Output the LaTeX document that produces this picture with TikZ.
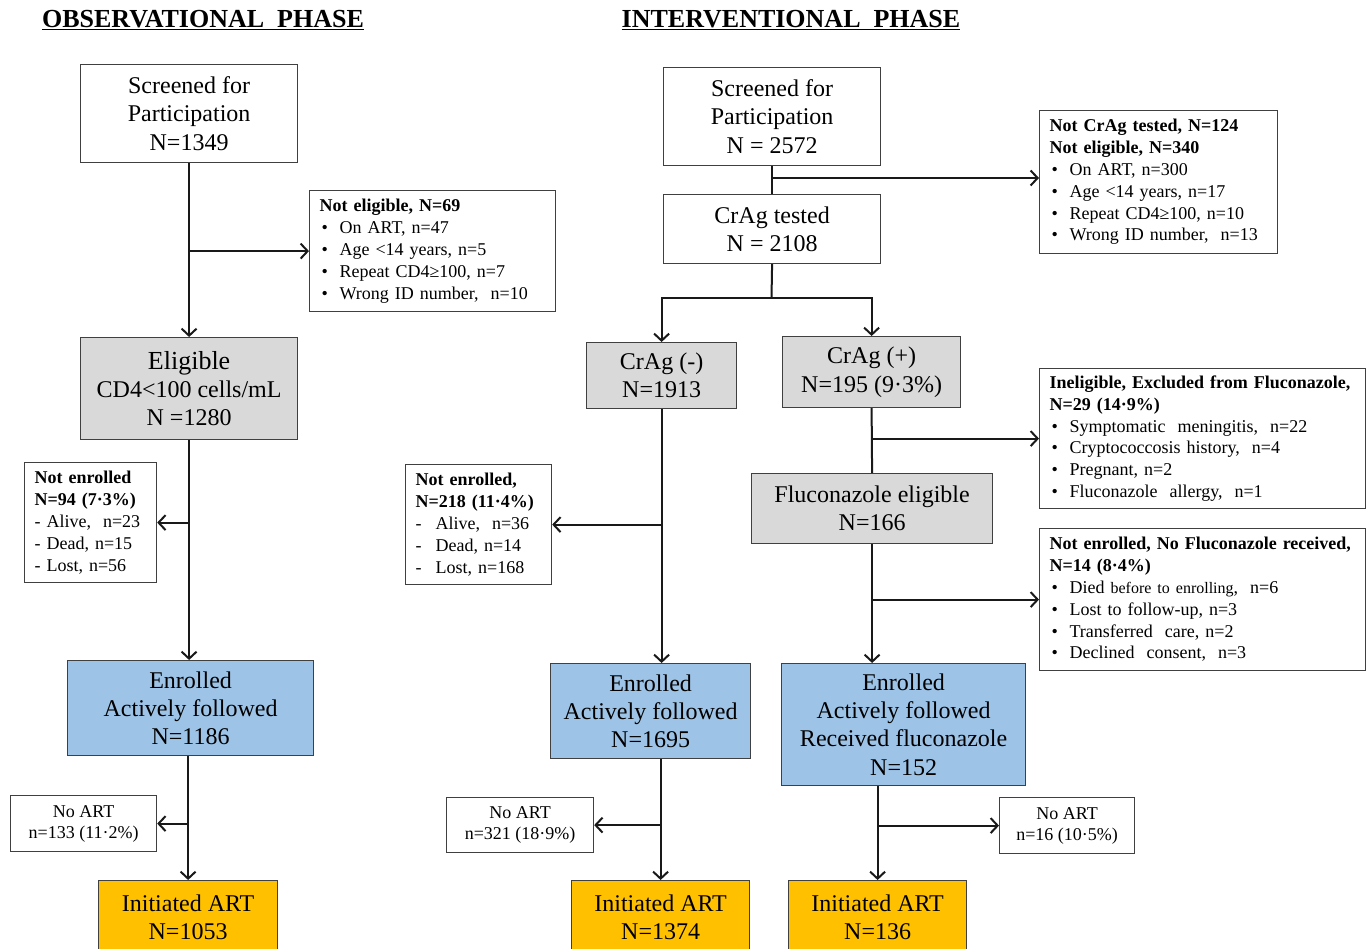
\documentclass[tikz,border=0pt]{standalone}
\usepackage{fontspec}
\setmainfont{Liberation Serif}
\usetikzlibrary{arrows.meta}
\newcommand\myfs[2]{\fontsize{#1pt}{#2pt}\selectfont}
\newcommand\bit{\hspace*{2pt}\makebox[18pt][l]{\textbullet}}
\newcommand\dit{\makebox[20pt][l]{-}}
\definecolor{cgrey}{HTML}{D9D9D9}
\definecolor{cblue}{HTML}{9DC3E6}
\definecolor{corange}{HTML}{FFC000}
\begin{document}
\begin{tikzpicture}[x=1pt,y=-1pt,
 mainbox/.style={draw=black!75, line width=1.2pt, align=center, inner sep=0pt, font=\myfs{24}{28.3}, anchor=north west},
 sidebox/.style={draw=black!75, line width=1.2pt, align=left, inner xsep=10pt, inner ysep=0pt, font=\myfs{18}{21.8}, anchor=north west},
 smallbox/.style={draw=black!75, line width=1.2pt, align=center, inner sep=0pt, font=\myfs{18}{21}, anchor=north west},
 ttl/.style={font=\myfs{26}{30}\bfseries},
 ln/.style={line width=2pt, draw=black!90},
 arr/.style={ln, -{Straight Barb[length=7pt,width=15pt,line width=2pt]}},
]
\clip (0,0) rectangle (1370,949);
\fill[white] (0,0) rectangle (1370,949);

% titles
\node[ttl] (t1) at (203,20) {\underline{OBSERVATIONAL\ \ PHASE}};
\node[ttl] (t2) at (791,20) {\underline{INTERVENTIONAL\ \ PHASE}};

% ---------------- observational ----------------
\node[mainbox, minimum width=217pt, minimum height=98pt] (scr1) at (80,64)
  {Screened for\\Participation\\N=1349};
\node[sidebox, text width=226pt, minimum height=121pt] (ne1) at (309,190)
  {\textbf{Not eligible, N=69}\\
   \bit On ART, n=47\\
   \bit Age <14 years, n=5\\
   \bit Repeat CD4≥100, n=7\\
   \bit Wrong ID number,\ \ n=10};
\node[mainbox, fill=cgrey, minimum width=217pt, minimum height=102pt] (el1) at (80,337)
  {{\myfs{26}{29.5}Eligible}\\CD4<100 cells/mL\\N =1280};
\node[sidebox, text width=112pt, minimum height=120pt] (nen1) at (24,462)
  {\textbf{Not enrolled}\\
   \textbf{N=94 (7·3\%)}\\
   - Alive,\ \ n=23\\
   - Dead, n=15\\
   - Lost, n=56};
\node[mainbox, fill=cblue, minimum width=246pt, minimum height=95pt] (en1) at (67,660)
  {Enrolled\\Actively followed\\N=1186};
\node[smallbox, minimum width=146pt, minimum height=56pt] (na1) at (10,795)
  {No ART\\n=133 (11·2\%)};
\node[mainbox, fill=corange, minimum width=179pt, minimum height=74pt] (in1) at (98,880)
  {Initiated ART\\N=1053};

\draw[arr] (scr1.south) -- (el1.north);
\draw[arr] (scr1.south |- ne1.west) -- (ne1.west);
\draw[arr] (el1.south) -- (el1.south |- en1.north);
\draw[arr] (el1.south |- nen1.east) -- (nen1.east);
\draw[arr] (in1.north |- en1.south) -- (in1.north);
\draw[arr] (in1.north |- na1.east) -- (na1.east);

% ---------------- interventional ----------------
\node[mainbox, minimum width=217pt, minimum height=98pt] (scr2) at (663,67)
  {Screened for\\Participation\\N = 2572};
\node[mainbox, minimum width=217pt, minimum height=69pt] (ct) at (663,194)
  {CrAg tested\\N = 2108};
\node[sidebox, text width=218pt, minimum height=143pt] (ncr) at (1039,110)
  {\textbf{Not CrAg tested, N=124}\\
   \textbf{Not eligible, N=340}\\
   \bit On ART, n=300\\
   \bit Age <14 years, n=17\\
   \bit Repeat CD4≥100, n=10\\
   \bit Wrong ID number,\ \ n=13};
\coordinate (j1) at (771.5,178);
\coordinate (sp) at (771.5,298);
\node[mainbox, fill=cgrey, minimum width=150pt, minimum height=66pt] (neg) at (586,342)
  {CrAg (-)\\N=1913};
\node[mainbox, fill=cgrey, minimum width=178pt, minimum height=71pt] (pos) at (782,336)
  {CrAg (+)\\N=195 (9·3\%)};
\node[sidebox, text width=306pt, minimum height=140pt] (inel) at (1039,368)
  {\textbf{Ineligible, Excluded from Fluconazole,}\\
   \textbf{N=29 (14·9\%)}\\
   \bit Symptomatic\ \ meningitis,\ \ n=22\\
   \bit Cryptococcosis history,\ \ n=4\\
   \bit Pregnant, n=2\\
   \bit Fluconazole\ \ allergy,\ \ n=1};
\node[mainbox, fill=cgrey, minimum width=241pt, minimum height=70pt] (flu) at (751,473)
  {Fluconazole eligible\\N=166};
\node[sidebox, text width=306pt, minimum height=142pt] (nef) at (1039,528)
  {\textbf{Not enrolled, No Fluconazole received,}\\
   \textbf{N=14 (8·4\%)}\\
   \bit Died {\myfs{16}{21.8}before to enrolling},\ \ n=6\\
   \bit Lost to follow-up, n=3\\
   \bit Transferred\ \ care, n=2\\
   \bit Declined\ \ consent,\ \ n=3};
\node[sidebox, text width=126pt, minimum height=120pt] (nen2) at (405,464)
  {\textbf{Not enrolled,}\\
   \textbf{N=218 (11·4\%)}\\
   \dit Alive,\ \ n=36\\
   \dit Dead, n=14\\
   \dit Lost, n=168};
\node[mainbox, fill=cblue, minimum width=200pt, minimum height=95pt] (en2) at (550,663)
  {Enrolled\\Actively followed\\N=1695};
\node[mainbox, fill=cblue, minimum width=244pt, minimum height=122pt] (en3) at (781,663)
  {Enrolled\\Actively followed\\Received fluconazole\\N=152};
\node[smallbox, minimum width=147pt, minimum height=55pt] (na2) at (446,797)
  {No ART\\n=321 (18·9\%)};
\node[smallbox, minimum width=135pt, minimum height=56pt] (na3) at (999,797)
  {No ART\\n=16 (10·5\%)};
\node[mainbox, fill=corange, minimum width=178pt, minimum height=74pt] (in2) at (571,880)
  {Initiated ART\\N=1374};
\node[mainbox, fill=corange, minimum width=178pt, minimum height=74pt] (in3) at (788,880)
  {Initiated ART\\N=136};

\draw[ln] (scr2.south) -- (ct.north);
\draw[arr] (j1) -- (ncr.west |- j1);
\draw[ln] (ct.south) -- (sp);
\draw[arr] (sp) -| (neg.north);
\draw[arr] (sp) -| (pos.north);
\draw[ln] (pos.south) -- (flu.north);
\draw[arr] (pos.south |- inel.west) -- (inel.west);
\draw[arr] (flu.south) -- (flu.south |- en3.north);
\draw[arr] (flu.south |- nef.west) -- (nef.west);
\draw[arr] (neg.south) -- (neg.south |- en2.north);
\draw[arr] (neg.south |- nen2.east) -- (nen2.east);
\draw[arr] (in2.north |- en2.south) -- (in2.north);
\draw[arr] (in2.north |- na2.east) -- (na2.east);
\draw[arr] (in3.north |- en3.south) -- (in3.north);
\draw[arr] (in3.north |- na3.west) -- (na3.west);
\end{tikzpicture}
\end{document}
